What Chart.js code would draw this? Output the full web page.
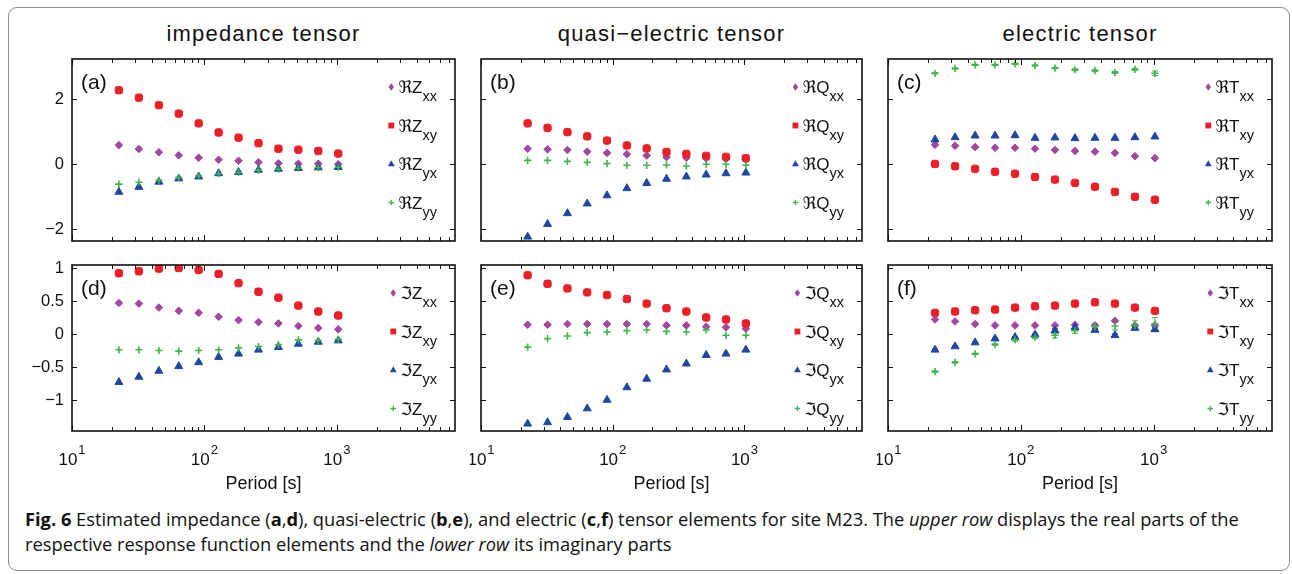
<!DOCTYPE html>
<html>
<head>
<meta charset="utf-8">
<script src="https://cdn.jsdelivr.net/npm/chart.js@4.4.0/dist/chart.umd.min.js"></script>
<style>
  body { margin: 0; background: #fff; width: 1292px; height: 574px; position: relative; overflow: hidden; font-family: "Liberation Sans", Arial, sans-serif; }
  #frame { position: absolute; left: 8px; top: 7px; width: 1282px; height: 564px; border: 1px solid #8c8c8c; border-radius: 9px; box-sizing: border-box; }
  .ttl { position: absolute; top: 21px; height: 26px; line-height: 26px; font-size: 22px; letter-spacing: 1.2px; color: #111; text-align: center; }
  canvas { position: absolute; }
  #cap { position: absolute; left: 25px; top: 506px; font-family: "Open Sans", "Noto Sans", sans-serif; font-size: 18.3px; line-height: 25px; color: #111; white-space: nowrap; }
</style>
</head>
<body>
<div id="frame"></div>
<div class="ttl" style="left:72px;width:383px">impedance tensor</div>
<div class="ttl" style="left:481px;width:381px">quasi−electric tensor</div>
<div class="ttl" style="left:888px;width:384px">electric tensor</div>

<canvas id="pa" width="448" height="195" style="left:12px;top:50px"></canvas>
<canvas id="pb" width="397" height="195" style="left:470px;top:50px"></canvas>
<canvas id="pc" width="400" height="195" style="left:877px;top:50px"></canvas>
<canvas id="pd" width="448" height="243" style="left:12px;top:255px"></canvas>
<canvas id="pe" width="397" height="243" style="left:470px;top:255px"></canvas>
<canvas id="pf" width="400" height="243" style="left:877px;top:255px"></canvas>

<div id="cap"><b>Fig. 6</b> Estimated impedance (<b>a</b>,<b>d</b>), quasi-electric (<b>b</b>,<b>e</b>), and electric (<b>c</b>,<b>f</b>) tensor elements for site M23. The <i>upper row</i> displays the real parts of the<br>respective response function elements and the <i>lower row</i> its imaginary parts</div>

<script>
// periods [s]
const periods = [22.6, 32, 45.3, 64, 90.5, 128, 181, 256, 362, 512, 724, 1024];
const comps = ['xx', 'xy', 'yx', 'yy'];
const xTickLabels = [10, 100, 1000];
const yTicksRe = [-2, 0, 2];
const yTicksIm = [-1, -0.5, 0, 0.5, 1];

// (a) real impedance
const reZxx = [0.58, 0.46, 0.36, 0.27, 0.19, 0.13, 0.10, 0.05, 0.02, 0.01, 0.01, -0.01];
const reZxy = [2.27, 2.04, 1.81, 1.55, 1.25, 0.97, 0.81, 0.64, 0.47, 0.44, 0.40, 0.32];
const reZyx = [-0.86, -0.71, -0.55, -0.45, -0.39, -0.29, -0.25, -0.18, -0.15, -0.13, -0.11, -0.10];
const reZyy = [-0.62, -0.56, -0.50, -0.42, -0.37, -0.30, -0.26, -0.19, -0.16, -0.13, -0.11, -0.10];
// (b) real quasi-electric
const reQxx = [0.47, 0.45, 0.43, 0.38, 0.34, 0.30, 0.26, 0.21, 0.19, 0.17, 0.15, 0.14];
const reQxy = [1.25, 1.11, 0.98, 0.85, 0.72, 0.57, 0.48, 0.37, 0.31, 0.25, 0.22, 0.18];
const reQyx = [-2.24, -1.85, -1.52, -1.22, -0.97, -0.75, -0.59, -0.46, -0.39, -0.33, -0.29, -0.27];
const reQyy = [0.11, 0.11, 0.08, 0.05, 0.01, -0.04, -0.04, -0.03, -0.06, -0.01, -0.01, -0.04];
// (c) real electric
const reTxx = [0.59, 0.56, 0.52, 0.50, 0.50, 0.47, 0.43, 0.40, 0.38, 0.34, 0.24, 0.18];
const reTxy = [0.00, -0.07, -0.15, -0.24, -0.30, -0.40, -0.48, -0.58, -0.70, -0.86, -1.01, -1.10];
const reTyx = [0.75, 0.82, 0.87, 0.87, 0.88, 0.80, 0.81, 0.79, 0.80, 0.80, 0.82, 0.84];
const reTyy = [2.79, 2.94, 3.05, 3.05, 3.08, 3.03, 2.95, 2.90, 2.87, 2.82, 2.91, 2.79];
// (d) imag impedance
const imZxx = [0.47, 0.46, 0.40, 0.35, 0.32, 0.26, 0.21, 0.18, 0.16, 0.12, 0.09, 0.07];
const imZxy = [0.92, 0.95, 0.99, 1.00, 0.97, 0.91, 0.77, 0.64, 0.55, 0.43, 0.34, 0.28];
const imZyx = [-0.73, -0.65, -0.56, -0.49, -0.43, -0.35, -0.30, -0.24, -0.20, -0.15, -0.12, -0.10];
const imZyy = [-0.24, -0.24, -0.25, -0.26, -0.25, -0.24, -0.21, -0.19, -0.16, -0.09, -0.10, -0.08];
// (e) imag quasi-electric
const imQxx = [0.14, 0.14, 0.15, 0.15, 0.15, 0.15, 0.15, 0.13, 0.13, 0.11, 0.10, 0.08];
const imQxy = [0.89, 0.76, 0.69, 0.63, 0.59, 0.53, 0.46, 0.39, 0.34, 0.25, 0.22, 0.16];
const imQyx = [-1.36, -1.34, -1.26, -1.13, -1.00, -0.81, -0.68, -0.54, -0.45, -0.32, -0.30, -0.24];
const imQyy = [-0.20, -0.07, -0.03, 0.02, 0.03, 0.05, 0.06, 0.04, 0.03, 0.06, -0.02, -0.02];
// (f) imag electric
const imTxx = [0.22, 0.19, 0.15, 0.13, 0.13, 0.13, 0.13, 0.14, 0.13, 0.20, 0.13, 0.13];
const imTxy = [0.32, 0.34, 0.36, 0.37, 0.40, 0.42, 0.43, 0.46, 0.48, 0.46, 0.40, 0.35];
const imTyx = [-0.24, -0.19, -0.13, -0.07, -0.05, -0.01, 0.05, 0.10, 0.06, -0.02, 0.09, 0.07];
const imTyy = [-0.57, -0.43, -0.30, -0.16, -0.09, -0.05, -0.02, 0.05, 0.11, 0.12, 0.13, 0.15];

// error bars that are visible in the picture
const errReTyy = [0.02, 0.02, 0.02, 0.02, 0.02, 0.02, 0.02, 0.03, 0.03, 0.03, 0.03, 0.07];
const errImTyy = [0.01, 0.01, 0.01, 0.01, 0.02, 0.02, 0.04, 0.04, 0.05, 0.06, 0.07, 0.10];
const errImTxy = [0.01, 0.01, 0.01, 0.01, 0.01, 0.01, 0.01, 0.01, 0.01, 0.01, 0.02, 0.04];
const errImTyx = [0.01, 0.01, 0.01, 0.01, 0.01, 0.01, 0.03, 0.03, 0.02, 0.02, 0.02, 0.03];

const colors = ['#a2479f', '#ea1f27', '#1f47a0', '#3fb54b'];
const styles = ['rectRot', 'rectRounded', 'triangle', 'cross'];
const legStyles = ['rectRot', 'rect', 'triangle', 'cross'];
const radii = [3.8, 4.3, 4.6, 3.6];
const legRadii = [3.2, 4.2, 3.8, 2.8];
const FONT = '"Liberation Sans", "DejaVu Sans", Arial, sans-serif';

function marker(ctx, style, r, x, y, color) {
    ctx.save();
    ctx.fillStyle = color;
    ctx.strokeStyle = color;
    ctx.lineWidth = 1.3;
    ctx.beginPath();
    if (style === 'rectRot') {
        ctx.moveTo(x, y - r * 1.15); ctx.lineTo(x + r * 0.85, y); ctx.lineTo(x, y + r * 1.15); ctx.lineTo(x - r * 0.85, y);
        ctx.closePath(); ctx.fill();
    } else if (style === 'rect') {
        const s = r * 0.7;
        ctx.rect(x - s, y - s, 2 * s, 2 * s); ctx.fill();
    } else if (style === 'triangle') {
        ctx.moveTo(x, y - r); ctx.lineTo(x + r * 0.9, y + r * 0.6); ctx.lineTo(x - r * 0.9, y + r * 0.6);
        ctx.closePath(); ctx.fill();
    } else {
        ctx.moveTo(x - r, y); ctx.lineTo(x + r, y); ctx.moveTo(x, y - r); ctx.lineTo(x, y + r); ctx.stroke();
    }
    ctx.restore();
}

const figPlugin = {
    id: 'mfig',
    beforeDatasetsDraw(chart) {
        const ctx = chart.ctx, xs = chart.scales.x, ys = chart.scales.y;
        chart.data.datasets.forEach(ds => {
            if (!ds.errors) return;
            ctx.save();
            ctx.strokeStyle = ds.borderColor;
            ctx.lineWidth = 1;
            ds.data.forEach((p, j) => {
                const e = ds.errors[j];
                const x = xs.getPixelForValue(p.x);
                const y1 = ys.getPixelForValue(p.y - e), y2 = ys.getPixelForValue(p.y + e);
                ctx.beginPath();
                ctx.moveTo(x, y1); ctx.lineTo(x, y2);
                ctx.moveTo(x - 3, y1); ctx.lineTo(x + 3, y1);
                ctx.moveTo(x - 3, y2); ctx.lineTo(x + 3, y2);
                ctx.stroke();
            });
            ctx.restore();
        });
    },
    afterDraw(chart, args, o) {
        const ctx = chart.ctx, a = chart.chartArea, xs = chart.scales.x, ys = chart.scales.y;
        ctx.save();
        ctx.strokeStyle = '#111';
        ctx.lineWidth = 1;
        // ticks on all four sides, pointing inwards
        ctx.beginPath();
        [1, 10, 100, 1000].forEach(dec => {
            for (let m = 1; m <= 9; m++) {
                const v = m * dec;
                if (v < xs.min || v > xs.max) continue;
                const x = Math.round(xs.getPixelForValue(v)) + 0.5;
                const len = m === 1 ? 6 : 4;
                ctx.moveTo(x, a.bottom); ctx.lineTo(x, a.bottom - len);
                ctx.moveTo(x, a.top); ctx.lineTo(x, a.top + len);
            }
        });
        o.yTicks.forEach(v => {
            const y = Math.round(ys.getPixelForValue(v)) + 0.5;
            ctx.moveTo(a.left, y); ctx.lineTo(a.left + 5, y);
            ctx.moveTo(a.right, y); ctx.lineTo(a.right - 5, y);
        });
        ctx.stroke();
        // box
        ctx.lineWidth = 1.6;
        ctx.strokeRect(a.left, a.top, a.right - a.left, a.bottom - a.top);

        ctx.fillStyle = '#111';
        // x tick labels 10^k
        if (o.xLabels) {
            xTickLabels.forEach(v => {
                const k = String(Math.round(Math.log10(v)));
                const x = xs.getPixelForValue(v);
                ctx.font = '17px ' + FONT;
                const w1 = ctx.measureText('10').width;
                ctx.font = '13px ' + FONT;
                const w2 = ctx.measureText(k).width;
                const x0 = x - (w1 + w2 + 1) / 2;
                ctx.textAlign = 'left';
                ctx.textBaseline = 'alphabetic';
                ctx.font = '17px ' + FONT;
                ctx.fillText('10', x0, a.bottom + 34);
                ctx.font = '13px ' + FONT;
                ctx.fillText(k, x0 + w1 + 1, a.bottom + 22.5);
            });
        }
        // panel letter
        ctx.font = '21px ' + FONT;
        ctx.textAlign = 'left';
        ctx.textBaseline = 'alphabetic';
        ctx.fillText(o.letter, a.left + 9, a.top + 30);
        // legend
        chart.data.datasets.forEach((ds, i) => {
            const my = a.top + 28 + 38.5 * i;
            ctx.font = '17px ' + FONT;
            const main = o.prefix + o.base;
            const w1 = ctx.measureText(main).width;
            ctx.font = '14.5px ' + FONT;
            const w2 = ctx.measureText(ds.label).width;
            const tx = a.right - 18 - w1 - w2;
            marker(ctx, legStyles[i], legRadii[i], tx - 7, my, colors[i]);
            ctx.fillStyle = '#111';
            ctx.font = '17px ' + FONT;
            ctx.fillText(main, tx, my + 6);
            ctx.font = '14.5px ' + FONT;
            ctx.fillText(ds.label, tx + w1, my + 14);
        });
        ctx.restore();
    }
};

function makePanel(id, series, opt) {
    const yt = opt.re ? yTicksRe : yTicksIm;
    return new Chart(document.getElementById(id), {
        type: 'scatter',
        data: {
            datasets: series.map((s, i) => ({
                label: comps[i],
                data: periods.map((p, j) => ({ x: p, y: s[j] })),
                pointStyle: styles[i],
                pointRadius: radii[i],
                backgroundColor: colors[i],
                borderColor: colors[i],
                borderWidth: i === 3 ? 1.6 : 1,
                order: 4 - i,
                errors: opt.errors ? opt.errors[i] : null,
            })),
        },
        options: {
            responsive: false,
            animation: false,
            layout: { padding: opt.pad, autoPadding: false },
            plugins: {
                legend: { display: false },
                tooltip: { enabled: false },
                mfig: { letter: opt.letter, prefix: opt.re ? 'ℜ' : 'ℑ', base: opt.base, yTicks: yt, xLabels: !opt.re },
            },
            scales: {
                x: {
                    type: 'logarithmic',
                    min: 10,
                    max: 7800,
                    display: !opt.re,
                    grid: { display: false, drawTicks: false },
                    border: { display: false },
                    ticks: { display: false },
                    title: { display: true, text: 'Period [s]', color: '#111', font: { family: FONT, size: 18 }, padding: { top: 0, bottom: 3 } },
                    afterFit: s => { s.height = opt.re ? 0 : 67; },
                },
                y: {
                    min: opt.re ? -2.37 : -1.47,
                    max: opt.re ? 3.23 : 1.045,
                    display: opt.left,
                    grid: { display: false, drawTicks: false },
                    border: { display: false },
                    afterBuildTicks: s => { s.ticks = yt.map(v => ({ value: v })); },
                    ticks: {
                        padding: 8,
                        color: '#111',
                        font: { family: FONT, size: 16.5 },
                        callback: v => String(v).replace('-', '−'),
                    },
                    afterFit: s => {
                        s.width = opt.left ? 60 : 0;
                        // labels sit well inside the range, no extra room needed
                        s.paddingTop = 0;
                        s.paddingBottom = 0;
                    },
                },
            },
        },
        plugins: [figPlugin],
    });
}

makePanel('pa', [reZxx, reZxy, reZyx, reZyy], { re: true, left: true, letter: '(a)', base: 'Z', pad: { left: 0, right: 5, top: 9, bottom: 4 } });
makePanel('pb', [reQxx, reQxy, reQyx, reQyy], { re: true, left: false, letter: '(b)', base: 'Q', pad: { left: 11, right: 5, top: 9, bottom: 4 } });
makePanel('pc', [reTxx, reTxy, reTyx, reTyy], { re: true, left: false, letter: '(c)', base: 'T', pad: { left: 11, right: 5, top: 9, bottom: 4 },
    errors: [null, null, null, errReTyy] });
makePanel('pd', [imZxx, imZxy, imZyx, imZyy], { re: false, left: true, letter: '(d)', base: 'Z', pad: { left: 0, right: 5, top: 10, bottom: 0 } });
makePanel('pe', [imQxx, imQxy, imQyx, imQyy], { re: false, left: false, letter: '(e)', base: 'Q', pad: { left: 11, right: 5, top: 10, bottom: 0 } });
makePanel('pf', [imTxx, imTxy, imTyx, imTyy], { re: false, left: false, letter: '(f)', base: 'T', pad: { left: 11, right: 5, top: 10, bottom: 0 },
    errors: [null, errImTxy, errImTyx, errImTyy] });
</script>
</body>
</html>
